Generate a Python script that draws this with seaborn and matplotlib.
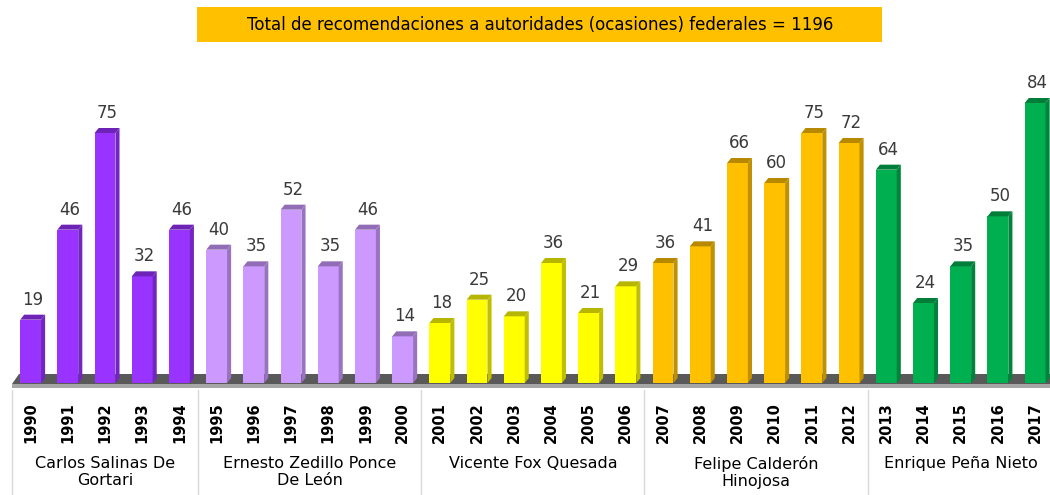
import numpy as np
import pandas as pd
import matplotlib
matplotlib.use("Agg")
import matplotlib.pyplot as plt
import matplotlib.colors as mcolors
from matplotlib.patches import Polygon, Rectangle
from matplotlib.transforms import blended_transform_factory
import seaborn as sns

years = [str(y) for y in range(1990, 2018)]
values = [19, 46, 75, 32, 46,
          40, 35, 52, 35, 46, 14,
          18, 25, 20, 36, 21, 29,
          36, 41, 66, 60, 75, 72,
          64, 24, 35, 50, 84]
presidents = ["Carlos Salinas De\nGortari", "Ernesto Zedillo Ponce\nDe León",
              "Vicente Fox Quesada", "Felipe Calderón\nHinojosa", "Enrique Peña Nieto"]
group_sizes = [5, 6, 6, 6, 5]
colors = ["#9933FF", "#CC99FF", "#FFFF00", "#FFC000", "#00B050"]
title = "Total de recomendaciones a autoridades (ocasiones) federales = 1196"

df = pd.DataFrame({
    "year": years,
    "value": values,
    "president": np.repeat(presidents, group_sizes),
})

sns.set_style("white")
plt.rcParams["font.family"] = ["DejaVu Sans"]

W, H = 1050, 495
fig = plt.figure(figsize=(W / 100, H / 100), dpi=100)
ax = fig.add_axes([12 / W, (H - 388) / H, (W - 12) / W, 305 / H])

# floor (drawn first so the bars stand on it)
floor_top = Polygon([[-0.32, 2.7], [27.5, 2.7], [27.5, -0.3], [-0.5, -0.3]],
                    closed=True, fc="#595959", ec="none", clip_on=False, zorder=0)
floor_front = Polygon([[-0.5, -0.3], [27.5, -0.3], [27.5, -1.4], [-0.5, -1.4]],
                      closed=True, fc="#a6a6a6", ec="none", clip_on=False, zorder=0)
ax.add_patch(floor_top)
ax.add_patch(floor_front)

sns.barplot(data=df, x="year", y="value", hue="president",
            palette=dict(zip(presidents, colors)), dodge=False, saturation=1,
            width=0.56, legend=False, ax=ax, zorder=2, linewidth=0)

# fake 3D: side and top of each bar, plus value labels
dx, dy = 0.11, 1.5
for p in list(ax.patches):
    if not isinstance(p, Rectangle) or p.get_height() <= 0:
        continue
    x0, w, h = p.get_x(), p.get_width(), p.get_height()
    fc = np.array(mcolors.to_rgb(p.get_facecolor()))
    dark = fc * 0.75
    side = Polygon([[x0 + w, 0], [x0 + w + dx, dy], [x0 + w + dx, h + dy], [x0 + w, h]],
                   closed=True, fc=dark, ec="none", zorder=2)
    top = Polygon([[x0, h], [x0 + w, h], [x0 + w + dx, h + dy], [x0 + dx, h + dy]],
                  closed=True, fc=dark * 0.95, ec="none", zorder=2)
    ax.add_patch(side)
    ax.add_patch(top)
    ax.text(x0 + w / 2 + dx / 2, h + dy + 1.8, f"{h:.0f}", ha="center", va="bottom",
            fontsize=12, color="#3a3a3a")

ax.set_xlim(-0.5, 27.4)
ax.set_ylim(-1.5, 90)
ax.set_yticks([])
ax.set_xlabel("")
ax.set_ylabel("")
for s in ax.spines.values():
    s.set_visible(False)
ax.tick_params(axis="x", length=0, pad=10)
for lab in ax.get_xticklabels():
    lab.set_rotation(90)
    lab.set_fontweight("bold")
    lab.set_fontsize(10.5)
    lab.set_color("black")

# group labels and separators
tr = blended_transform_factory(ax.transData, fig.transFigure)
start = 0
for name, n in zip(presidents, group_sizes):
    center = start + (n - 1) / 2
    ax.text(center, (H - 456) / H, name, transform=tr, ha="center", va="top",
            fontsize=11.5, color="black", linespacing=1.2)
    ax.plot([start - 0.5, start - 0.5], [(H - 390) / H, 0], transform=tr,
            color="#d9d9d9", lw=1, clip_on=False)
    start += n

# title box
fig.patches.append(Rectangle((197 / W, (H - 42) / H), (882 - 197) / W, 35 / H,
                             transform=fig.transFigure, fc="#FFC000", ec="none"))
fig.text(540 / W, (H - 24.5) / H, title, ha="center", va="center", fontsize=12,
         color="black")

fig.savefig("out.png", dpi=100)
